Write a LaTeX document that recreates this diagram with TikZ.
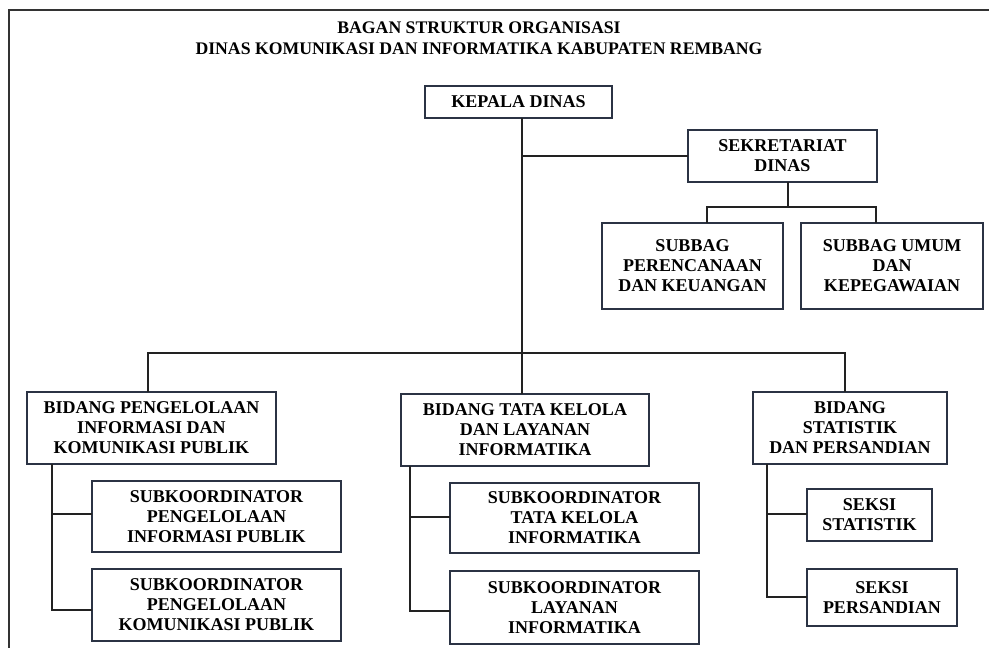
\documentclass[tikz,border=0pt]{standalone}
\usepackage{fontspec}
\setmainfont{Liberation Serif}
\definecolor{boxc}{HTML}{2B3344}
\definecolor{linec}{HTML}{222222}
\definecolor{framec}{HTML}{333333}
\newcommand\orgnode[6]{\node[orgbox,minimum width={(#4-#2)*1pt},minimum height={(#5-#3)*1pt}] (#1) at ({(#2+#4)/2},{(#3+#5)/2}) {#6};}
\begin{document}
\begin{tikzpicture}[x=1pt,y=-1pt,
  orgbox/.style={draw=boxc, line width=1.8pt, fill=white, inner sep=0pt, outer sep=0pt,
    align=center, font=\fontsize{18}{20}\selectfont\bfseries},
  conn/.style={draw=linec, line width=1.8pt},
  ttl/.style={align=center, inner sep=0pt, font=\fontsize{17.7}{20.5}\selectfont\bfseries}]
\useasboundingbox (0,0) rectangle (989,648);
\clip (0,0) rectangle (989,648);
\fill[white] (0,0) rectangle (989,648);
\draw[framec, line width=2.5pt] (9,670) -- (9,10) -- (1010,10);

\node[ttl] (title) at (479,38) {BAGAN STRUKTUR ORGANISASI\\DINAS KOMUNIKASI DAN INFORMATIKA KABUPATEN REMBANG};

\orgnode{kepala}{425}{86}{612}{118}{KEPALA DINAS}
\orgnode{sekr}{688}{130}{877}{182}{SEKRETARIAT\\DINAS}
\orgnode{subren}{602}{223}{783}{309}{SUBBAG\\PERENCANAAN\\DAN KEUANGAN}
\orgnode{subumum}{801}{223}{983}{309}{SUBBAG UMUM\\DAN\\KEPEGAWAIAN}

\orgnode{bidA}{27}{392}{276}{464}{BIDANG PENGELOLAAN\\INFORMASI DAN\\KOMUNIKASI PUBLIK}
\orgnode{sA1}{92}{481}{341}{552}{SUBKOORDINATOR\\PENGELOLAAN\\INFORMASI PUBLIK}
\orgnode{sA2}{92}{569}{341}{641}{SUBKOORDINATOR\\PENGELOLAAN\\KOMUNIKASI PUBLIK}

\orgnode{bidB}{401}{394}{649}{466}{BIDANG TATA KELOLA\\DAN LAYANAN\\INFORMATIKA}
\orgnode{sB1}{450}{483}{699}{553}{SUBKOORDINATOR\\TATA KELOLA\\INFORMATIKA}
\orgnode{sB2}{450}{571}{699}{644}{SUBKOORDINATOR\\LAYANAN\\INFORMATIKA}

\orgnode{bidC}{753}{392}{947}{464}{BIDANG\\STATISTIK\\DAN PERSANDIAN}
\orgnode{sC1}{807}{489}{932}{541}{SEKSI\\STATISTIK}
\orgnode{sC2}{807}{569}{957}{626}{SEKSI\\PERSANDIAN}

% junction coordinates
\coordinate (spine) at (522,353);
\coordinate (busL) at (148,353);
\coordinate (busR) at (845,353);
\coordinate (sj) at (788,207);
\coordinate (sjL) at (707,207);
\coordinate (sjR) at (876,207);
\coordinate (bA1) at (52,514);
\coordinate (bA2) at (52,610);
\coordinate (bB1) at (410,517);
\coordinate (bB2) at (410,611);
\coordinate (bC1) at (767,514);
\coordinate (bC2) at (767,597);

% main spine and bus
\draw[conn] (kepala.south -| spine) -- (bidB.north -| spine);
\draw[conn] (spine |- sekr.west) -- (sekr.west);
\draw[conn] (bidA.north -| busL) -- (busL) -- (busR) -- (bidC.north -| busR);

% sekretariat
\draw[conn] (sekr.south -| sj) -- (sj);
\draw[conn] (subren.north -| sjL) -- (sjL) -- (sjR) -- (subumum.north -| sjR);

% bidang A
\draw[conn] (bidA.south -| bA2) -- (bA2) -- (sA2.west |- bA2);
\draw[conn] (bA1) -- (sA1.west |- bA1);
% bidang B
\draw[conn] (bidB.south -| bB2) -- (bB2) -- (sB2.west |- bB2);
\draw[conn] (bB1) -- (sB1.west |- bB1);
% bidang C
\draw[conn] (bidC.south -| bC2) -- (bC2) -- (sC2.west |- bC2);
\draw[conn] (bC1) -- (sC1.west |- bC1);
\end{tikzpicture}
\end{document}
